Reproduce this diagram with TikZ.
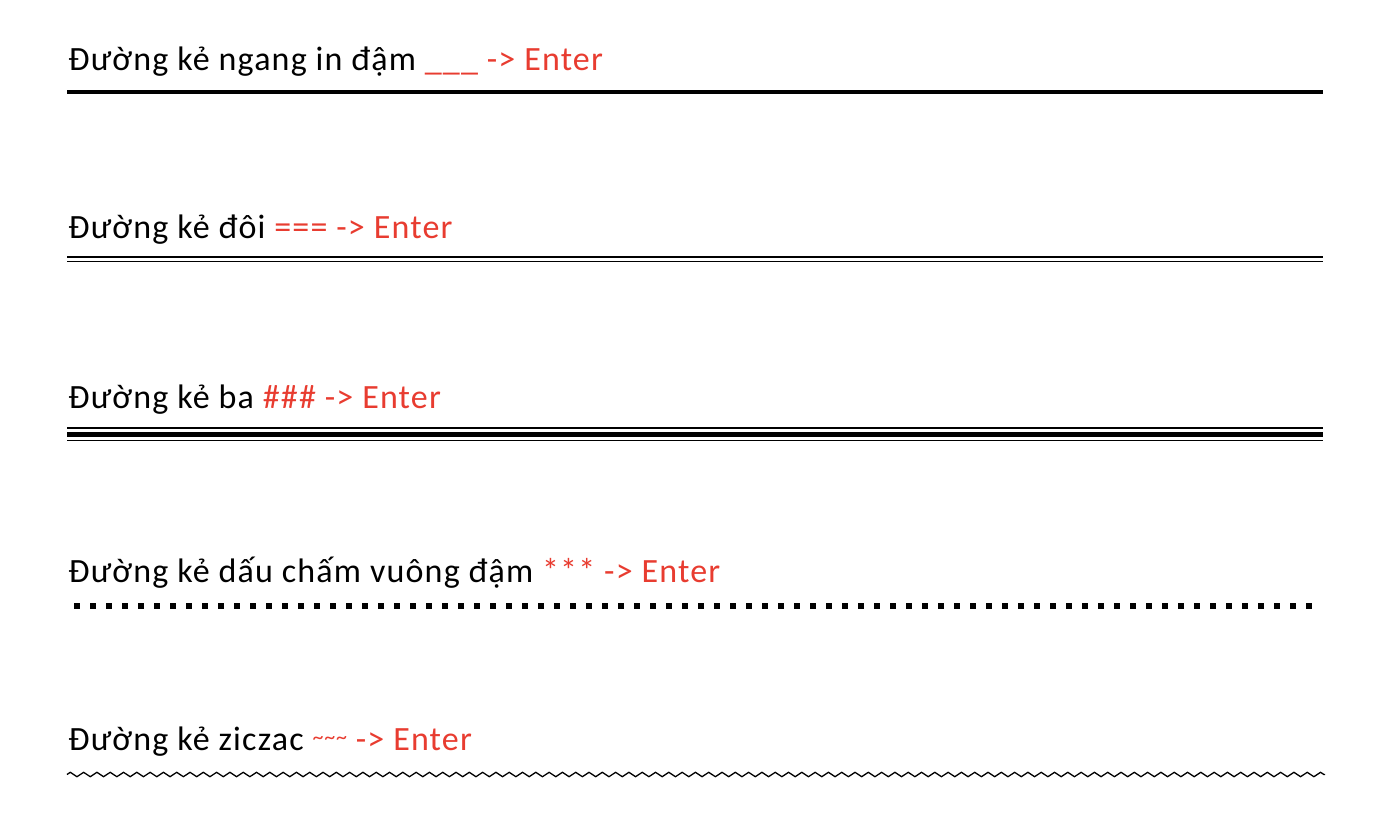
\documentclass[tikz,border=0pt]{standalone}
\usepackage{fontspec}
\setmainfont{Carlito}[LetterSpace=3.5]
\usetikzlibrary{decorations.pathmorphing}
\definecolor{keyred}{RGB}{232,60,48}
\tikzset{every picture/.style={line width=0.75pt}}
\tikzset{
  caption/.style={anchor=base west,inner sep=0pt,font=\fontsize{34}{40}\selectfont},
  key/.style={text=keyred}
}
\begin{document}
\begin{tikzpicture}[x=1pt,y=1pt,yscale=-1,xscale=1]
\useasboundingbox (0,0) rectangle (1390,814);

% Text Node
\node[caption] (bold) at (68,70) {Đường kẻ ngang in đậm \textcolor{keyred}{\_\_\_ -> Enter}};
\draw[line width=3.5] (67,92) -- (1323,92) ;

% Text Node
\node[caption] (double) at (68,238) {Đường kẻ đôi \textcolor{keyred}{=== -> Enter}};
\draw[line width=1.5] (67,257) -- (1323,257) ;
\draw[line width=1.5] (67,261.5) -- (1323,261.5) ;

% Text Node
\node[caption] (triple) at (68,408) {Đường kẻ ba \textcolor{keyred}{\#\#\# -> Enter}};
\draw[line width=1.5] (67,428) -- (1323,428) ;
\draw[line width=4.5] (67,434.5) -- (1323,434.5) ;
\draw[line width=1.5] (67,440.5) -- (1323,440.5) ;

% Text Node
\node[caption] (dots) at (68,582) {Đường kẻ dấu chấm vuông đậm \textcolor{keyred}{*** -> Enter}};
\draw[line width=6,dash pattern={on 6pt off 10pt}] (74,606) -- (1320,606) ;

% Text Node
\node[caption] (zigzag) at (68,750) {Đường kẻ ziczac \textcolor{keyred}{\raisebox{6pt}{\fontsize{22}{22}\selectfont\textasciitilde\textasciitilde\textasciitilde}{} -> Enter}};
\draw[line width=1.3,decorate,decoration={zigzag,segment length=13.3pt,amplitude=2.2pt}] (67,774.5) -- (1325,774.5) ;

\end{tikzpicture}
\end{document}
